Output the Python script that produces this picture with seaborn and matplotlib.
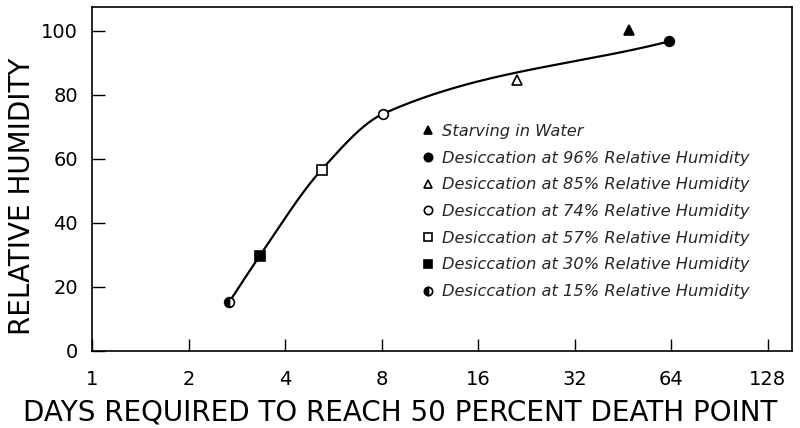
import numpy as np
import pandas as pd
import matplotlib
matplotlib.use("Agg")
import matplotlib.pyplot as plt
import seaborn as sns

# Days to 50 % mortality for each treatment, and the humidity it was kept at
labels = [
    "Starving in Water",
    "Desiccation at 96% Relative Humidity",
    "Desiccation at 85% Relative Humidity",
    "Desiccation at 74% Relative Humidity",
    "Desiccation at 57% Relative Humidity",
    "Desiccation at 30% Relative Humidity",
    "Desiccation at 15% Relative Humidity",
]
days = [47.4, 63.1, 21.2, 8.1, 5.2, 3.34, 2.68]
humidity = [100.3, 96.7, 84.8, 74.1, 56.6, 29.8, 15.3]

# Treatments the fitted curve is drawn through (desiccation series)
curve_days = [2.68, 3.34, 5.2, 8.1, 63.1]
curve_rh = [15.3, 29.8, 56.6, 74.1, 96.7]

x_ticks = [1, 2, 4, 8, 16, 32, 64, 128]
y_ticks = [0, 20, 40, 60, 80, 100]


def pchip(xk, yk, xs):
    """Monotone cubic Hermite curve through the knots."""
    xk = np.asarray(xk, float)
    yk = np.asarray(yk, float)
    h = np.diff(xk)
    d = np.diff(yk) / h
    n = len(xk)
    m = np.zeros(n)
    for k in range(1, n - 1):
        if d[k - 1] * d[k] <= 0:
            m[k] = 0.0
        else:
            w1 = 2 * h[k] + h[k - 1]
            w2 = h[k] + 2 * h[k - 1]
            m[k] = (w1 + w2) / (w1 / d[k - 1] + w2 / d[k])
    m[0] = d[0]
    m[-1] = d[-1]
    idx = np.clip(np.searchsorted(xk, xs) - 1, 0, n - 2)
    t = (xs - xk[idx]) / h[idx]
    h00 = 2 * t**3 - 3 * t**2 + 1
    h10 = t**3 - 2 * t**2 + t
    h01 = -2 * t**3 + 3 * t**2
    h11 = t**3 - t**2
    return (h00 * yk[idx] + h10 * h[idx] * m[idx]
            + h01 * yk[idx + 1] + h11 * h[idx] * m[idx + 1])


sns.set_theme(style="ticks")
plt.rcParams["font.family"] = ["DejaVu Sans"]

fig = plt.figure(figsize=(8.0, 4.28), dpi=100)
ax = fig.add_axes([0.115, 0.18, 0.875, 0.804])

lx = np.log2(curve_days)
xs = np.linspace(lx[0], lx[-1], 300)
curve = pd.DataFrame({"days": 2 ** xs, "rh": pchip(lx, curve_rh, xs)})
sns.lineplot(data=curve, x="days", y="rh", ax=ax, color="black",
             linewidth=1.6, sort=False, estimator=None)

styles = [
    dict(marker="^", markerfacecolor="black"),
    dict(marker="o", markerfacecolor="black"),
    dict(marker="^", markerfacecolor="white"),
    dict(marker="o", markerfacecolor="white"),
    dict(marker="s", markerfacecolor="white"),
    dict(marker="s", markerfacecolor="black"),
    dict(marker="o", markerfacecolor="black", fillstyle="left",
         markerfacecoloralt="white"),
]
handles = []
for lab, dx, ry, st in zip(labels, days, humidity, styles):
    h, = ax.plot([dx], [ry], linestyle="none", markersize=7,
                 markeredgecolor="black", markeredgewidth=1.2,
                 label=lab, zorder=3, **st)
    handles.append(h)

ax.set_xscale("log", base=2)
ax.set_xlim(1, 152.6)
ax.set_ylim(0, 107.5)
ax.set_xticks(x_ticks)
ax.set_xticklabels([str(v) for v in x_ticks])
ax.set_yticks(y_ticks)
ax.set_yticklabels([str(v) for v in y_ticks])
ax.minorticks_off()

ax.tick_params(axis="both", direction="in", length=9, width=1.0,
               colors="black", labelsize=14)
ax.tick_params(axis="x", pad=14)
ax.tick_params(axis="y", pad=10)
for sp in ax.spines.values():
    sp.set_visible(True)
    sp.set_color("black")
    sp.set_linewidth(1.2)

ax.set_xlabel("DAYS REQUIRED TO REACH 50 PERCENT DEATH POINT",
              fontsize=20, color="black", va="center")
ax.xaxis.set_label_coords(0.44, -0.18)
ax.set_ylabel("RELATIVE HUMIDITY", fontsize=20, color="black", va="center")
ax.yaxis.set_label_coords(-0.1, 0.448)

leg = ax.legend(handles=handles, loc="upper left",
                bbox_to_anchor=(423 / 800, 1 - 124 / 428),
                bbox_transform=fig.transFigure, frameon=False,
                prop={"style": "italic", "size": 11.7},
                handlelength=0.6, handletextpad=0.55, labelspacing=0.72,
                borderpad=0, borderaxespad=0)
for hnd in leg.legend_handles:
    hnd.set_markersize(6)

ax.set_facecolor("white")
fig.patch.set_facecolor("white")
fig.savefig("out.png", dpi=100, facecolor="white")
